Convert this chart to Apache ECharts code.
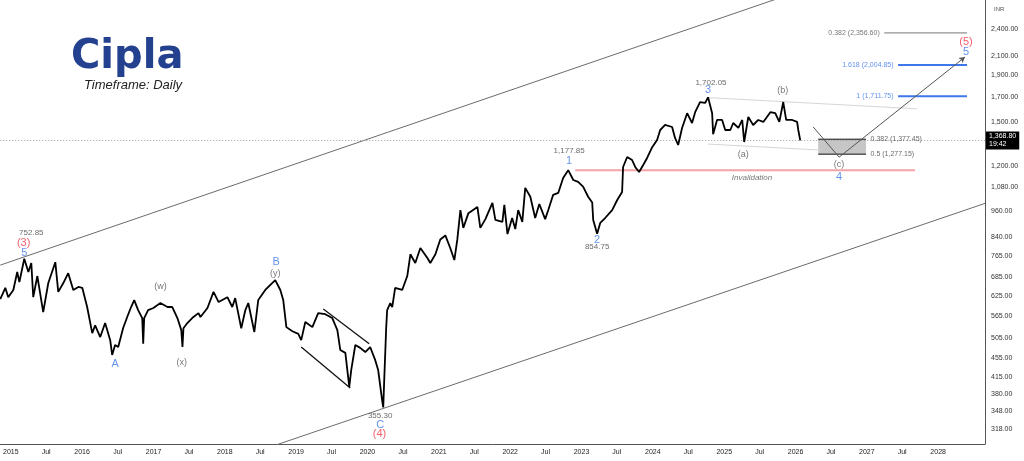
<!DOCTYPE html>
<html>
<head>
<meta charset="utf-8">
<title>Cipla - Timeframe Daily</title>
<script src="https://cdn.jsdelivr.net/npm/echarts@6/dist/echarts.min.js"></script>
<style>
html, body { margin: 0; padding: 0; background: #fff; }
#chart { width: 1024px; height: 461px; }
</style>
</head>
<body>
<div id="chart"></div>
<script>
// price path at the turning points
const priceDates = [
  '2014-11-08','2014-12-04','2014-12-19','2015-01-14','2015-02-03','2015-02-14','2015-03-11','2015-04-01','2015-04-16','2015-04-26',
  '2015-05-17','2015-06-16','2015-07-12','2015-08-17','2015-09-01','2015-09-27','2015-10-22','2015-11-17','2015-12-13','2016-01-02',
  '2016-01-27','2016-02-22','2016-03-08','2016-04-03','2016-04-28','2016-05-24','2016-06-03','2016-06-18','2016-07-04','2016-07-29',
  '2016-08-19','2016-09-08','2016-09-24','2016-10-14','2016-11-04','2016-11-09','2016-11-14','2016-12-04','2016-12-31','2017-02-05',
  '2017-03-13','2017-04-07','2017-05-03','2017-05-23','2017-05-29','2017-06-03','2017-06-23','2017-07-24','2017-08-19','2017-08-29',
  '2017-10-04','2017-11-04','2017-11-30','2018-01-14','2018-02-08','2018-02-23','2018-03-26','2018-04-16','2018-05-01','2018-06-01',
  '2018-06-21','2018-07-27','2018-08-22','2018-09-16','2018-10-12','2018-10-27','2018-11-12','2018-12-13','2019-01-12','2019-01-27',
  '2019-02-17','2019-03-25','2019-04-24','2019-05-30','2019-07-05','2019-07-31','2019-08-15','2019-09-10','2019-09-30','2019-10-10',
  '2019-10-31','2019-11-25','2019-12-21','2020-01-15','2020-02-10','2020-02-25','2020-03-16','2020-03-22','2020-03-27','2020-04-06',
  '2020-04-11','2020-04-27','2020-05-07','2020-05-22','2020-06-27','2020-07-23','2020-08-08','2020-09-02','2020-09-28','2020-11-03',
  '2020-11-18','2020-12-14','2021-01-08','2021-02-03','2021-02-28','2021-03-21','2021-04-05','2021-04-21','2021-05-06','2021-06-01',
  '2021-07-17','2021-08-01','2021-08-27','2021-10-02','2021-10-17','2021-11-22','2021-12-02','2021-12-18','2022-01-11','2022-01-27',
  '2022-02-11','2022-03-04','2022-03-19','2022-04-14','2022-05-09','2022-05-30','2022-06-29','2022-07-15','2022-08-09','2022-09-04',
  '2022-09-29','2022-10-25','2022-11-20','2022-12-15','2023-01-10','2023-02-04','2023-02-25','2023-03-02','2023-03-22','2023-04-07',
  '2023-05-02','2023-06-07','2023-07-03','2023-07-28','2023-08-02','2023-08-23','2023-09-17','2023-10-03','2023-10-23','2023-11-13',
  '2023-12-03','2023-12-29','2024-01-23','2024-02-08','2024-03-04','2024-04-09','2024-04-24','2024-05-10','2024-05-30','2024-06-25',
  '2024-07-20','2024-08-05','2024-08-30','2024-09-25','2024-10-10','2024-10-31','2024-11-05','2024-11-25','2024-12-21','2025-01-06',
  '2025-02-01','2025-02-16','2025-03-14','2025-04-03','2025-04-13','2025-05-04','2025-05-29','2025-06-24','2025-07-20','2025-08-25',
  '2025-09-19','2025-10-10','2025-10-30','2025-11-14','2025-12-15','2026-01-09','2026-01-15','2026-01-25'
];
const priceValues = [
  614, 650, 620, 643, 704, 669, 752.85, 704, 737, 620,
  690, 575, 666, 740, 637, 666, 700, 643, 653, 650,
  590, 517, 538, 507, 544, 499, 463, 487, 482, 530,
  561, 590, 611, 581, 558, 490, 558, 581, 587, 602,
  590, 590, 558, 525, 482, 530, 544, 561, 572, 561,
  587, 637, 605, 620, 590, 617, 530, 581, 602, 520,
  611, 643, 660, 676, 643, 611, 533, 522, 515, 499,
  547, 533, 572, 569, 558, 525, 475, 468, 394, 429,
  487, 480, 470, 482, 451, 429, 369, 355.30, 408, 530,
  581, 602, 590, 650, 643, 690, 770, 737, 795, 756,
  737, 770, 830, 847, 795, 748, 828, 963, 880, 948,
  978, 880, 920, 998, 916, 907, 988, 853, 925, 875,
  963, 907, 1077, 1030, 925, 993, 920, 963, 1040, 1050,
  1132, 1177.85, 1121, 1110, 1083, 1030, 1000, 916, 854.75, 902,
  925, 963, 1013, 1055, 1197, 1259, 1240, 1197, 1167, 1209,
  1253, 1323, 1372, 1443, 1480, 1465, 1386, 1338, 1458, 1571,
  1495, 1579, 1662, 1654, 1702.05, 1571, 1412, 1518, 1518, 1443,
  1443, 1495, 1458, 1518, 1358, 1541, 1480, 1518, 1503, 1579,
  1571, 1503, 1662, 1518, 1518, 1503, 1443, 1368.80
];
const lastPrice = 1368.80;
const lastTime = '19:42';

const yTickValues = [318, 348, 380, 415, 455, 505, 565, 625, 685, 765, 840, 960, 1080, 1200, 1500, 1700, 1900, 2100, 2400];
const xTickDates = [];
for (let y = 2015; y <= 2028; y++) {
  xTickDates.push(y + '-01-01');
  if (y < 2028) xTickDates.push(y + '-07-01');
}

// drawn lines [date, price]
const upperChannel = [['2014-11-08', 729], ['2026-04-22', 3002]];
const lowerChannel = [['2018-08-12', 290], ['2028-08-28', 996]];
const wedgeLower = [['2019-01-27', 482], ['2019-10-05', 392]];
const wedgeUpper = [['2019-05-20', 584], ['2020-01-10', 490]];
const waveBTop = [['2024-10-15', 1699], ['2027-09-15', 1606]];
const waveBBottom = [['2024-10-10', 1344], ['2026-05-07', 1304]];
const invalidationLevel = 1177.85;
const invalidationRange = ['2022-11-30', '2027-09-05'];
const projection = [['2026-04-01', 1466], ['2026-08-12', 1258], ['2028-05-18', 2087]];

const fibValues = [2356.60, 2004.85, 1711.75];
const fibTexts = ['0.382 (2,356.60)', '1.618 (2,004.85)', '1 (1,711.75)'];
const fibStarts = ['2027-03-31', '2027-06-10', '2027-06-10'];
const fibEnd = '2028-05-28';
const boxValues = [1377.45, 1277.15];
const boxTexts = ['0.382 (1,377.45)', '0.5 (1,277.15)'];
const boxRange = ['2026-04-27', '2026-12-28'];

// wave labels [date, price, text]
const blueLabels = [
  ['2015-03-11', 775, '5'], ['2016-06-18', 442, 'A'], ['2018-09-21', 740, 'B'], ['2020-03-06', 325, 'C'],
  ['2022-10-30', 1234, '1'], ['2023-03-22', 828, '2'], ['2024-10-10', 1766, '3'], ['2026-08-12', 1138, '4'],
  ['2028-05-23', 2144, '5']
];
const redLabels = [['2015-03-08', 816, '(3)'], ['2020-03-03', 310, '(4)'], ['2028-05-23', 2249, '(5)']];
const grayLabels = [
  ['2017-02-05', 656, '(w)'], ['2017-05-25', 446, '(x)'], ['2018-09-16', 700, '(y)'],
  ['2025-04-08', 1272, '(a)'], ['2025-10-27', 1766, '(b)'], ['2026-08-12', 1210, '(c)']
];
const priceLabels = [
  ['2015-04-16', 857, '752.85'], ['2020-03-06', 340, '355.30'], ['2022-10-30', 1297, '1,177.85'],
  ['2023-03-22', 801, '854.75'], ['2024-10-25', 1834, '1,702.05']
];
const noteLabels = [['2025-05-23', 1133, 'Invalidation']];

const font = 'Liberation Sans';
const ts = s => new Date(s + 'T00:00:00').getTime();
const pt = p => [ts(p[0])].concat(p.slice(1));
const fmtPrice = v => v.toLocaleString('en-US', { minimumFractionDigits: 2, maximumFractionDigits: 2 });

function seg(data, color, width, type) {
  return {
    type: 'line', data: data.map(pt), showSymbol: false, silent: true, z: 3,
    lineStyle: { color: color, width: width, type: type || 'solid' }
  };
}

function labels(data, color, size, extra) {
  return {
    type: 'scatter', data: data.map(pt), symbolSize: 1, silent: true, z: 6,
    itemStyle: { color: 'rgba(0,0,0,0)' },
    label: Object.assign({
      show: true, position: 'inside', formatter: p => p.data[2],
      color: color, fontSize: size, fontFamily: font
    }, extra || {})
  };
}

const chart = echarts.init(document.getElementById('chart'));

const series = [
  seg(upperChannel, '#6b6b6b', 1),
  seg(lowerChannel, '#6b6b6b', 1),
  seg(wedgeLower, '#111', 1.3),
  seg(wedgeUpper, '#111', 1.3),
  seg(waveBTop, '#d6d6d6', 1),
  seg(waveBBottom, '#d6d6d6', 1),
  seg(invalidationRange.map(d => [d, invalidationLevel]), '#f5a3a6', 2),
  {
    type: 'line', data: priceDates.map((d, i) => [ts(d), priceValues[i]]),
    showSymbol: false, z: 5, silent: true,
    lineStyle: { color: '#000', width: 1.8 },
    markLine: {
      silent: true, symbol: 'none',
      lineStyle: { color: '#9a9a9a', type: [1, 2], width: 1 },
      label: {
        position: 'end', distance: 1, formatter: fmtPrice(lastPrice) + '\n' + lastTime,
        backgroundColor: '#000', color: '#fff', fontSize: 7, lineHeight: 8,
        padding: [1, 3, 1, 3], fontFamily: font, align: 'left'
      },
      data: [{ yAxis: lastPrice }]
    }
  },
  {
    type: 'line', data: [], silent: true, z: 4,
    markArea: {
      silent: true, itemStyle: { color: '#c6c6c6' },
      data: [[{ coord: [ts(boxRange[0]), boxValues[0]] }, { coord: [ts(boxRange[1]), boxValues[1]] }]]
    },
    markLine: {
      silent: true, symbol: ['none', 'arrow'], symbolSize: [5, 6],
      lineStyle: { color: '#555', width: 1, type: 'solid' }, label: { show: false },
      data: [
        [{ coord: pt(projection[0]), symbol: 'none' }, { coord: pt(projection[1]), symbol: 'none' }],
        [{ coord: pt(projection[1]), symbol: 'none' }, { coord: pt(projection[2]) }]
      ]
    }
  }
];

boxValues.forEach(v => series.push(seg(boxRange.map(d => [d, v]), '#111', 1)));
fibValues.forEach((v, i) => series.push(seg([[fibStarts[i], v], [fibEnd, v]], i === 0 ? '#777' : '#3d78ea', i === 0 ? 1 : 2)));

const fibLabelData = fibValues.map((v, i) => [fibStarts[i], v, fibTexts[i]]);
series.push(labels(fibLabelData.slice(0, 1), '#555', 7, { position: 'left', distance: 4 }));
series.push(labels(fibLabelData.slice(1), '#3d78ea', 7, { position: 'left', distance: 4 }));
series.push(labels(boxValues.map((v, i) => [boxRange[1], v, boxTexts[i]]), '#444', 7, { position: 'right', distance: 4 }));
series.push(labels(blueLabels, '#3d78ea', 11));
series.push(labels(redLabels, '#f23645', 11));
series.push(labels(grayLabels, '#555', 9));
series.push(labels(priceLabels, '#444', 8));
series.push(labels(noteLabels, '#555', 8, { fontStyle: 'italic' }));

chart.setOption({
  animation: false,
  backgroundColor: '#fff',
  title: [
    { text: 'Cipla', left: 66, top: 33, textStyle: { fontFamily: 'DejaVu Sans', fontWeight: 'bold', fontSize: 40, color: '#24418f' } },
    { text: 'Timeframe: Daily', left: 79, top: 74, textStyle: { fontFamily: font, fontStyle: 'italic', fontWeight: 'normal', fontSize: 13, color: '#222' } }
  ],
  graphic: [
    { type: 'text', left: 994, top: 6, style: { text: 'INR', fontSize: 6, fill: '#555', fontFamily: font } }
  ],
  grid: { left: 0, right: 39, top: 0, bottom: 17 },
  xAxis: {
    type: 'value',
    min: ts('2014-11-08'), max: ts('2028-08-28'),
    axisLine: { lineStyle: { color: '#555', width: 1 } },
    axisTick: { show: false },
    splitLine: { show: false },
    axisLabel: {
      customValues: xTickDates.map(ts),
      formatter: v => { const d = new Date(v); return d.getMonth() === 0 ? String(d.getFullYear()) : 'Jul'; },
      fontSize: 7, color: '#222', fontFamily: font, margin: 5, hideOverlap: false
    }
  },
  yAxis: {
    type: 'log', logBase: 10, position: 'right',
    min: 295.3, max: 2783,
    axisLine: { show: true, lineStyle: { color: '#555', width: 1 } },
    axisTick: { show: false },
    splitLine: { show: false },
    axisLabel: {
      customValues: yTickValues,
      formatter: v => fmtPrice(v),
      fontSize: 7, color: '#333', fontFamily: font, margin: 6
    }
  },
  series: series
});
</script>
</body>
</html>
